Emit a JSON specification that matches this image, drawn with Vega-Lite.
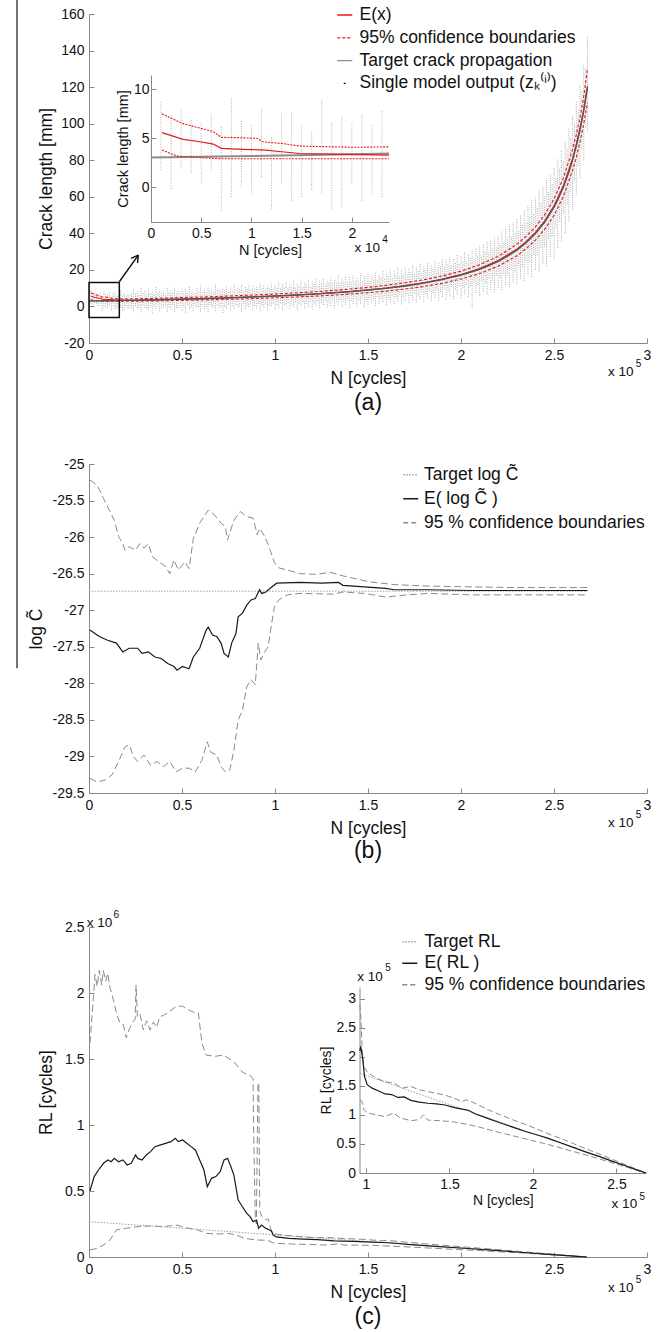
{
"$schema": "https://vega.github.io/schema/vega-lite/v6.json",
"width": 670, "height": 1332, "autosize": {"type": "none"}, "padding": 0,
"config": {
 "view": {"stroke": null},
 "font": "Liberation Sans",
 "axis": {"grid": false, "domainColor": "#888888", "tickColor": "#888888", "tickSize": -5, "labelPadding": 10, "labelFontSize": 14, "labelColor": "#111111", "labelFont": "Liberation Sans", "titleFont": "Liberation Sans", "titleFontSize": 17.5, "titleFontWeight": "normal", "titleColor": "#111111", "labelFlush": false, "labelOverlap": false, "labelBound": false, "domainWidth": 1, "tickWidth": 1},
 "text": {"font": "Liberation Sans", "color": "#111111"},
 "legend": {"labelFont": "Liberation Sans", "labelFontSize": 17.5, "labelColor": "#111111", "labelLimit": 0, "symbolType": "stroke", "symbolSize": 225, "symbolStrokeWidth": 1.3, "padding": 0}
},
"datasets": {
 "one": [{}],
 "streaks": [
  {"N":0,"lo":0.5,"hi":5.0},{"N":0.01,"lo":1.7,"hi":8.7},{"N":0.02,"lo":-0.2,"hi":7.4},{"N":0.03,"lo":1.9,"hi":8.0},{"N":0.04,"lo":1.4,"hi":7.0},{"N":0.05,"lo":0.3,"hi":6.7},{"N":0.06,"lo":1.7,"hi":7.5},{"N":0.07,"lo":-2.4,"hi":6.2},{"N":0.08,"lo":-1.0,"hi":9.1},{"N":0.09,"lo":0.0,"hi":6.8},{"N":0.10,"lo":-0.7,"hi":6.3},{"N":0.11,"lo":1.0,"hi":8.0},{"N":0.12,"lo":-2.2,"hi":5.1},{"N":0.13,"lo":0.3,"hi":7.5},{"N":0.14,"lo":-1.4,"hi":7.7},{"N":0.15,"lo":-1.0,"hi":6.3},{"N":0.16,"lo":-0.3,"hi":5.8},{"N":0.17,"lo":-0.7,"hi":8.9},{"N":0.18,"lo":-2.2,"hi":6.7},{"N":0.19,"lo":-2.1,"hi":7.2},{"N":0.20,"lo":0.3,"hi":6.5},{"N":0.21,"lo":-1.4,"hi":7.4},{"N":0.22,"lo":-0.7,"hi":6.3},{"N":0.23,"lo":-1.0,"hi":7.9},
  {"N":0.24,"lo":-2.5,"hi":9.8},{"N":0.26,"lo":-1.0,"hi":8.2},{"N":0.28,"lo":-3.2,"hi":10.5},{"N":0.30,"lo":-0.8,"hi":8.9},{"N":0.32,"lo":-2.0,"hi":9.6},{"N":0.34,"lo":-3.8,"hi":8.4},{"N":0.36,"lo":-1.2,"hi":10.9},{"N":0.38,"lo":-2.6,"hi":9.0},{"N":0.40,"lo":-0.5,"hi":8.6},{"N":0.42,"lo":-3.0,"hi":10.2},{"N":0.44,"lo":-1.8,"hi":9.3},{"N":0.46,"lo":-2.9,"hi":11.0},{"N":0.48,"lo":-0.9,"hi":8.8},{"N":0.50,"lo":-2.2,"hi":10.4},{"N":0.52,"lo":-3.4,"hi":9.5},{"N":0.54,"lo":-1.1,"hi":11.3},{"N":0.56,"lo":-2.5,"hi":9.2},{"N":0.58,"lo":-0.7,"hi":10.0},{"N":0.60,"lo":-2.9,"hi":11.6},{"N":0.62,"lo":-1.5,"hi":9.4},{"N":0.64,"lo":-3.1,"hi":10.8},{"N":0.66,"lo":-0.6,"hi":9.7},{"N":0.68,"lo":-2.4,"hi":11.9},{"N":0.70,"lo":-1.0,"hi":10.1},{"N":0.72,"lo":-3.6,"hi":9.8},{"N":0.74,"lo":-0.9,"hi":11.4},{"N":0.76,"lo":-2.2,"hi":10.6},{"N":0.78,"lo":-1.4,"hi":12.0},{"N":0.80,"lo":-0.4,"hi":10.3},{"N":0.82,"lo":-2.8,"hi":11.7},{"N":0.84,"lo":-1.2,"hi":10.9},{"N":0.86,"lo":-0.3,"hi":12.4},{"N":0.88,"lo":-2.0,"hi":11.2},{"N":0.90,"lo":-1.1,"hi":10.8},{"N":0.92,"lo":-2.6,"hi":12.8},{"N":0.94,"lo":-0.6,"hi":11.5},{"N":0.96,"lo":-1.8,"hi":12.1},{"N":0.98,"lo":0.2,"hi":13.0},
  {"N":1.00,"lo":-1.5,"hi":11.9},{"N":1.02,"lo":-0.8,"hi":13.4},{"N":1.04,"lo":-2.1,"hi":12.6},{"N":1.06,"lo":0.1,"hi":13.9},{"N":1.08,"lo":-1.3,"hi":12.8},{"N":1.10,"lo":-0.4,"hi":14.2},{"N":1.12,"lo":-2.0,"hi":13.1},{"N":1.14,"lo":0.5,"hi":14.6},{"N":1.16,"lo":-1.1,"hi":13.5},{"N":1.18,"lo":-0.2,"hi":15.0},{"N":1.20,"lo":-1.6,"hi":13.8},{"N":1.22,"lo":0.4,"hi":15.3},{"N":1.24,"lo":-0.9,"hi":14.4},{"N":1.26,"lo":0.8,"hi":15.9},{"N":1.28,"lo":-0.5,"hi":14.7},{"N":1.30,"lo":0.2,"hi":16.2},{"N":1.32,"lo":-1.0,"hi":15.1},{"N":1.34,"lo":1.0,"hi":16.8},{"N":1.36,"lo":-0.3,"hi":15.6},{"N":1.38,"lo":0.6,"hi":17.1},{"N":1.40,"lo":-0.8,"hi":16.0},{"N":1.42,"lo":1.2,"hi":17.6},{"N":1.44,"lo":0.1,"hi":16.5},{"N":1.46,"lo":1.5,"hi":18.2},{"N":1.48,"lo":-0.2,"hi":17.0},{"N":1.50,"lo":1.0,"hi":18.5},{"N":1.52,"lo":2.0,"hi":17.4},{"N":1.54,"lo":0.3,"hi":19.2},{"N":1.56,"lo":1.6,"hi":18.0},{"N":1.58,"lo":2.4,"hi":19.8},{"N":1.60,"lo":0.9,"hi":18.6},{"N":1.62,"lo":2.2,"hi":20.3},{"N":1.64,"lo":1.4,"hi":19.5},{"N":1.66,"lo":2.9,"hi":21.0},{"N":1.68,"lo":1.1,"hi":20.2},{"N":1.70,"lo":3.0,"hi":21.8},{"N":1.72,"lo":1.9,"hi":20.9},{"N":1.74,"lo":3.4,"hi":22.6},{"N":1.76,"lo":2.2,"hi":21.5},{"N":1.78,"lo":3.9,"hi":23.4},{"N":1.80,"lo":2.5,"hi":22.3},{"N":1.82,"lo":4.2,"hi":24.0},{"N":1.84,"lo":2.9,"hi":23.1},{"N":1.86,"lo":4.8,"hi":25.2},{"N":1.88,"lo":3.3,"hi":24.0},{"N":1.90,"lo":5.1,"hi":26.0},{"N":1.92,"lo":3.6,"hi":25.4},{"N":1.94,"lo":5.5,"hi":27.1},{"N":1.96,"lo":4.0,"hi":26.3},{"N":1.98,"lo":6.2,"hi":28.4},
  {"N":2.00,"lo":4.5,"hi":27.6},{"N":2.02,"lo":6.6,"hi":30.0},{"N":2.04,"lo":5.1,"hi":29.1},{"N":2.06,"lo":-0.5,"hi":31.2},{"N":2.08,"lo":7.4,"hi":32.0},{"N":2.10,"lo":6.0,"hi":33.1},{"N":2.12,"lo":8.2,"hi":34.5},{"N":2.14,"lo":6.9,"hi":35.8},{"N":2.16,"lo":9.0,"hi":36.6},{"N":2.18,"lo":7.8,"hi":38.2},{"N":2.20,"lo":10.1,"hi":39.0},{"N":2.22,"lo":9.0,"hi":41.2},{"N":2.24,"lo":11.6,"hi":42.5},{"N":2.26,"lo":10.4,"hi":44.8},{"N":2.28,"lo":13.0,"hi":46.0},{"N":2.30,"lo":12.1,"hi":48.5},{"N":2.32,"lo":15.2,"hi":50.2},{"N":2.34,"lo":14.0,"hi":53.0},{"N":2.36,"lo":17.5,"hi":55.4},{"N":2.38,"lo":16.2,"hi":58.1},{"N":2.40,"lo":20.0,"hi":60.3},{"N":2.42,"lo":19.1,"hi":63.5},{"N":2.44,"lo":23.4,"hi":66.0},{"N":2.46,"lo":22.0,"hi":69.8},{"N":2.48,"lo":27.1,"hi":72.4},{"N":2.50,"lo":26.0,"hi":76.0},{"N":2.52,"lo":32.0,"hi":80.5},{"N":2.54,"lo":35.5,"hi":85.2},{"N":2.56,"lo":40.1,"hi":90.0},{"N":2.58,"lo":46.5,"hi":97.3},{"N":2.60,"lo":53.0,"hi":104.0},{"N":2.62,"lo":61.2,"hi":112.5},{"N":2.64,"lo":70.4,"hi":121.0},{"N":2.66,"lo":80.0,"hi":132.0},{"N":2.68,"lo":96.0,"hi":148.0},
  {"N":0.25,"lo":0.2,"hi":7.0},{"N":0.27,"lo":-0.6,"hi":6.4},{"N":0.29,"lo":0.5,"hi":7.6},{"N":0.31,"lo":-1.0,"hi":6.9},{"N":0.33,"lo":0.1,"hi":7.3},{"N":0.35,"lo":-0.4,"hi":6.6},{"N":0.37,"lo":0.6,"hi":7.9},{"N":0.39,"lo":-0.8,"hi":7.1},{"N":0.41,"lo":0.3,"hi":6.8},{"N":0.43,"lo":-0.5,"hi":7.7},{"N":0.45,"lo":0.4,"hi":7.2},{"N":0.47,"lo":-0.9,"hi":8.0},{"N":0.49,"lo":0.2,"hi":7.4},{"N":0.51,"lo":-0.3,"hi":8.1},{"N":0.53,"lo":0.7,"hi":7.5},{"N":0.55,"lo":-0.6,"hi":8.3},{"N":0.57,"lo":0.4,"hi":7.8},{"N":0.59,"lo":-0.2,"hi":8.5},{"N":0.61,"lo":0.9,"hi":7.9},{"N":0.63,"lo":-0.4,"hi":8.2},{"N":0.65,"lo":0.5,"hi":8.8},{"N":0.67,"lo":-0.1,"hi":8.0},{"N":0.69,"lo":0.8,"hi":8.9},{"N":0.71,"lo":0.1,"hi":8.3},{"N":0.73,"lo":-0.3,"hi":9.1},{"N":0.75,"lo":1.0,"hi":8.6},{"N":0.77,"lo":0.2,"hi":9.3},{"N":0.79,"lo":0.9,"hi":8.7},{"N":0.81,"lo":0.0,"hi":9.4},{"N":0.83,"lo":1.2,"hi":9.0},{"N":0.85,"lo":0.4,"hi":9.6},{"N":0.87,"lo":1.1,"hi":9.2},{"N":0.89,"lo":0.3,"hi":9.9},{"N":0.91,"lo":1.4,"hi":9.4},{"N":0.93,"lo":0.6,"hi":10.1},{"N":0.95,"lo":1.3,"hi":9.7},{"N":0.97,"lo":0.5,"hi":10.4},{"N":0.99,"lo":1.6,"hi":10.0},
  {"N":1.01,"lo":0.8,"hi":10.5},{"N":1.03,"lo":1.7,"hi":10.2},{"N":1.05,"lo":0.9,"hi":10.9},{"N":1.07,"lo":2.0,"hi":10.5},{"N":1.09,"lo":1.1,"hi":11.2},{"N":1.11,"lo":2.2,"hi":10.8},{"N":1.13,"lo":1.3,"hi":11.5},{"N":1.15,"lo":2.4,"hi":11.1},{"N":1.17,"lo":1.5,"hi":11.9},{"N":1.19,"lo":2.6,"hi":11.4},{"N":1.21,"lo":1.7,"hi":12.2},{"N":1.23,"lo":2.9,"hi":11.8},{"N":1.25,"lo":2.0,"hi":12.6},{"N":1.27,"lo":3.1,"hi":12.2},{"N":1.29,"lo":2.2,"hi":13.0},{"N":1.31,"lo":3.3,"hi":12.5},{"N":1.33,"lo":2.4,"hi":13.4},{"N":1.35,"lo":3.6,"hi":12.9},{"N":1.37,"lo":2.8,"hi":13.8},{"N":1.39,"lo":3.9,"hi":13.3},{"N":1.41,"lo":3.0,"hi":14.2},{"N":1.43,"lo":4.2,"hi":13.8},{"N":1.45,"lo":3.3,"hi":14.7},{"N":1.47,"lo":4.5,"hi":14.2},{"N":1.49,"lo":3.6,"hi":15.1},{"N":1.51,"lo":4.8,"hi":14.6},{"N":1.53,"lo":3.9,"hi":15.6},{"N":1.55,"lo":5.2,"hi":15.1},{"N":1.57,"lo":4.3,"hi":16.1},{"N":1.59,"lo":5.6,"hi":15.6},{"N":1.61,"lo":4.6,"hi":16.6},{"N":1.63,"lo":6.0,"hi":16.2},{"N":1.65,"lo":5.0,"hi":17.3},{"N":1.67,"lo":6.4,"hi":16.8},{"N":1.69,"lo":5.3,"hi":18.0},{"N":1.71,"lo":6.9,"hi":17.4},{"N":1.73,"lo":5.8,"hi":18.6},{"N":1.75,"lo":7.3,"hi":18.1},{"N":1.77,"lo":6.2,"hi":19.4},{"N":1.79,"lo":7.8,"hi":18.9},{"N":1.81,"lo":6.8,"hi":20.2},{"N":1.83,"lo":8.4,"hi":19.8},{"N":1.85,"lo":7.4,"hi":21.1},{"N":1.87,"lo":9.0,"hi":20.6},{"N":1.89,"lo":7.9,"hi":22.0},{"N":1.91,"lo":9.8,"hi":21.6},{"N":1.93,"lo":8.7,"hi":23.0},{"N":1.95,"lo":10.5,"hi":22.6},{"N":1.97,"lo":9.4,"hi":24.1},{"N":1.99,"lo":11.2,"hi":23.7},
  {"N":2.01,"lo":10.0,"hi":25.2},{"N":2.03,"lo":12.0,"hi":25.0},{"N":2.05,"lo":10.9,"hi":26.6},{"N":2.07,"lo":13.0,"hi":26.5},{"N":2.09,"lo":11.8,"hi":28.3},{"N":2.11,"lo":14.0,"hi":28.1},{"N":2.13,"lo":12.9,"hi":30.0},{"N":2.15,"lo":15.3,"hi":30.0},{"N":2.17,"lo":14.2,"hi":32.1},{"N":2.19,"lo":16.6,"hi":32.4},{"N":2.21,"lo":15.5,"hi":34.6},{"N":2.23,"lo":18.0,"hi":35.3},{"N":2.25,"lo":17.3,"hi":37.4},{"N":2.27,"lo":20.0,"hi":38.4},{"N":2.29,"lo":19.2,"hi":40.6},{"N":2.31,"lo":22.0,"hi":42.0},{"N":2.33,"lo":21.4,"hi":44.8},{"N":2.35,"lo":24.8,"hi":46.0},{"N":2.37,"lo":24.3,"hi":49.5},{"N":2.39,"lo":28.2,"hi":51.0},{"N":2.41,"lo":28.0,"hi":54.5},{"N":2.43,"lo":32.0,"hi":56.8},{"N":2.45,"lo":32.5,"hi":60.4},{"N":2.47,"lo":36.8,"hi":63.0},{"N":2.49,"lo":38.5,"hi":67.2},{"N":2.51,"lo":43.0,"hi":70.6},{"N":2.53,"lo":46.4,"hi":75.5},{"N":2.55,"lo":51.0,"hi":80.0},{"N":2.57,"lo":55.8,"hi":86.4},{"N":2.59,"lo":62.5,"hi":92.0},{"N":2.61,"lo":69.0,"hi":99.7},{"N":2.63,"lo":76.8,"hi":108.0},{"N":2.65,"lo":86.0,"hi":118.5},{"N":2.67,"lo":98.0,"hi":130.0}
 ],
 "a_target": [
  {"N":0,"v":3.0},{"N":0.1,"v":3.16},{"N":0.2,"v":3.34},{"N":0.237,"v":3.41},{"N":0.3,"v":3.54},{"N":0.4,"v":3.75},{"N":0.5,"v":3.99},{"N":0.6,"v":4.26},{"N":0.7,"v":4.55},{"N":0.8,"v":4.88},{"N":0.9,"v":5.25},{"N":1.0,"v":5.67},{"N":1.1,"v":6.15},{"N":1.2,"v":6.70},{"N":1.3,"v":7.34},{"N":1.4,"v":8.08},{"N":1.5,"v":8.95},{"N":1.6,"v":9.99},{"N":1.7,"v":11.25},{"N":1.8,"v":12.80},{"N":1.9,"v":14.72},{"N":2.0,"v":17.18},{"N":2.05,"v":18.67},{"N":2.1,"v":20.39},{"N":2.15,"v":22.4},{"N":2.2,"v":24.73},{"N":2.25,"v":27.5},{"N":2.3,"v":30.83},{"N":2.35,"v":34.9},{"N":2.4,"v":39.90},{"N":2.45,"v":46.22},{"N":2.5,"v":54.39},{"N":2.52,"v":58.4},{"N":2.55,"v":65.26},{"N":2.58,"v":73.6},{"N":2.6,"v":80.22},{"N":2.62,"v":87.9},{"N":2.64,"v":96.8},{"N":2.66,"v":107.3},{"N":2.68,"v":119.9}
 ],
 "a_E": [
  {"N":0.011,"v":5.55},{"N":0.032,"v":4.86},{"N":0.049,"v":4.62},{"N":0.062,"v":4.38},{"N":0.070,"v":3.94},{"N":0.092,"v":3.84},{"N":0.115,"v":3.77},{"N":0.130,"v":3.60},{"N":0.148,"v":3.42},{"N":0.181,"v":3.36},{"N":0.237,"v":3.25},{"N":0.3,"v":3.45},{"N":0.4,"v":3.72},{"N":0.5,"v":3.98},{"N":0.6,"v":4.28},{"N":0.7,"v":4.58},{"N":0.8,"v":4.93},{"N":0.9,"v":5.30},{"N":1.0,"v":5.72},{"N":1.1,"v":6.21},{"N":1.2,"v":6.77},{"N":1.3,"v":7.42},{"N":1.4,"v":8.17},{"N":1.5,"v":9.06},{"N":1.6,"v":10.12},{"N":1.7,"v":11.40},{"N":1.8,"v":12.98},{"N":1.9,"v":14.95},{"N":2.0,"v":17.45},{"N":2.1,"v":20.72},{"N":2.2,"v":25.13},{"N":2.3,"v":31.33},{"N":2.35,"v":35.5},{"N":2.4,"v":40.52},{"N":2.45,"v":46.9},{"N":2.5,"v":55.1},{"N":2.55,"v":66.0},{"N":2.6,"v":81.0},{"N":2.62,"v":88.7},{"N":2.64,"v":97.5},{"N":2.66,"v":108.0},{"N":2.68,"v":120.6}
 ],
 "a_ci": [
  {"b":"u","N":0.011,"v":7.47},{"b":"u","N":0.031,"v":6.5},{"b":"u","N":0.049,"v":6.0},{"b":"u","N":0.062,"v":5.65},{"b":"u","N":0.070,"v":5.07},{"b":"u","N":0.089,"v":5.03},{"b":"u","N":0.105,"v":4.97},{"b":"u","N":0.112,"v":4.6},{"b":"u","N":0.130,"v":4.45},{"b":"u","N":0.148,"v":4.18},{"b":"u","N":0.181,"v":4.1},{"b":"u","N":0.201,"v":4.05},{"b":"u","N":0.237,"v":4.1},{"b":"u","N":0.3,"v":4.3},{"b":"u","N":0.4,"v":4.55},{"b":"u","N":0.5,"v":4.85},{"b":"u","N":0.6,"v":5.15},{"b":"u","N":0.7,"v":5.5},{"b":"u","N":0.8,"v":5.9},{"b":"u","N":0.9,"v":6.3},{"b":"u","N":1.0,"v":6.8},{"b":"u","N":1.1,"v":7.35},{"b":"u","N":1.2,"v":7.95},{"b":"u","N":1.3,"v":8.65},{"b":"u","N":1.4,"v":9.5},{"b":"u","N":1.5,"v":10.45},{"b":"u","N":1.6,"v":11.6},{"b":"u","N":1.7,"v":12.95},{"b":"u","N":1.8,"v":14.6},{"b":"u","N":1.9,"v":16.7},{"b":"u","N":2.0,"v":19.3},{"b":"u","N":2.1,"v":22.8},{"b":"u","N":2.2,"v":27.4},{"b":"u","N":2.3,"v":34.0},{"b":"u","N":2.35,"v":38.3},{"b":"u","N":2.4,"v":43.5},{"b":"u","N":2.45,"v":50.2},{"b":"u","N":2.5,"v":58.8},{"b":"u","N":2.55,"v":70.2},{"b":"u","N":2.6,"v":86.0},{"b":"u","N":2.62,"v":94.0},{"b":"u","N":2.64,"v":103.5},{"b":"u","N":2.66,"v":115.0},{"b":"u","N":2.68,"v":130.0},
  {"b":"l","N":0.011,"v":3.77},{"b":"l","N":0.026,"v":3.15},{"b":"l","N":0.049,"v":3.01},{"b":"l","N":0.070,"v":2.88},{"b":"l","N":0.237,"v":2.88},{"b":"l","N":0.3,"v":2.95},{"b":"l","N":0.4,"v":3.1},{"b":"l","N":0.5,"v":3.3},{"b":"l","N":0.6,"v":3.5},{"b":"l","N":0.7,"v":3.75},{"b":"l","N":0.8,"v":4.05},{"b":"l","N":0.9,"v":4.35},{"b":"l","N":1.0,"v":4.7},{"b":"l","N":1.1,"v":5.1},{"b":"l","N":1.2,"v":5.55},{"b":"l","N":1.3,"v":6.1},{"b":"l","N":1.4,"v":6.75},{"b":"l","N":1.5,"v":7.5},{"b":"l","N":1.6,"v":8.4},{"b":"l","N":1.7,"v":9.55},{"b":"l","N":1.8,"v":10.95},{"b":"l","N":1.9,"v":12.7},{"b":"l","N":2.0,"v":15.0},{"b":"l","N":2.1,"v":18.0},{"b":"l","N":2.2,"v":22.0},{"b":"l","N":2.3,"v":27.7},{"b":"l","N":2.35,"v":31.6},{"b":"l","N":2.4,"v":36.3},{"b":"l","N":2.45,"v":42.2},{"b":"l","N":2.5,"v":49.8},{"b":"l","N":2.55,"v":60.0},{"b":"l","N":2.6,"v":74.5},{"b":"l","N":2.62,"v":81.5},{"b":"l","N":2.64,"v":90.0},{"b":"l","N":2.66,"v":100.0},{"b":"l","N":2.68,"v":111.5}
 ],
 "b_target": [{"N":0,"v":-26.74},{"N":2.68,"v":-26.74}],
 "b_E": [
  {"N":0.005,"v":-27.27},{"N":0.055,"v":-27.36},{"N":0.1,"v":-27.41},{"N":0.147,"v":-27.45},{"N":0.182,"v":-27.57},{"N":0.216,"v":-27.52},{"N":0.262,"v":-27.52},{"N":0.285,"v":-27.59},{"N":0.319,"v":-27.57},{"N":0.354,"v":-27.64},{"N":0.388,"v":-27.66},{"N":0.423,"v":-27.73},{"N":0.457,"v":-27.77},{"N":0.473,"v":-27.82},{"N":0.503,"v":-27.77},{"N":0.538,"v":-27.80},{"N":0.561,"v":-27.64},{"N":0.595,"v":-27.52},{"N":0.63,"v":-27.27},{"N":0.641,"v":-27.23},{"N":0.664,"v":-27.34},{"N":0.687,"v":-27.36},{"N":0.71,"v":-27.45},{"N":0.726,"v":-27.59},{"N":0.749,"v":-27.64},{"N":0.767,"v":-27.45},{"N":0.79,"v":-27.32},{"N":0.802,"v":-27.09},{"N":0.825,"v":-27.04},{"N":0.848,"v":-26.93},{"N":0.871,"v":-26.86},{"N":0.894,"v":-26.84},{"N":0.917,"v":-26.72},{"N":0.928,"v":-26.77},{"N":0.951,"v":-26.75},{"N":0.974,"v":-26.70},{"N":1.009,"v":-26.63},{"N":1.135,"v":-26.62},{"N":1.25,"v":-26.63},{"N":1.342,"v":-26.62},{"N":1.365,"v":-26.66},{"N":1.48,"v":-26.68},{"N":1.595,"v":-26.70},{"N":1.641,"v":-26.72},{"N":1.824,"v":-26.72},{"N":2.054,"v":-26.73},{"N":2.284,"v":-26.73},{"N":2.68,"v":-26.73}
 ],
 "b_ci": [
  {"b":"u","N":0.005,"v":-25.22},{"b":"u","N":0.044,"v":-25.29},{"b":"u","N":0.078,"v":-25.47},{"b":"u","N":0.113,"v":-25.65},{"b":"u","N":0.136,"v":-25.77},{"b":"u","N":0.159,"v":-25.99},{"b":"u","N":0.182,"v":-26.09},{"b":"u","N":0.193,"v":-26.18},{"b":"u","N":0.216,"v":-26.13},{"b":"u","N":0.25,"v":-26.18},{"b":"u","N":0.273,"v":-26.09},{"b":"u","N":0.296,"v":-26.15},{"b":"u","N":0.319,"v":-26.09},{"b":"u","N":0.342,"v":-26.27},{"b":"u","N":0.377,"v":-26.34},{"b":"u","N":0.411,"v":-26.40},{"b":"u","N":0.434,"v":-26.50},{"b":"u","N":0.457,"v":-26.31},{"b":"u","N":0.48,"v":-26.45},{"b":"u","N":0.515,"v":-26.34},{"b":"u","N":0.538,"v":-26.43},{"b":"u","N":0.561,"v":-26.02},{"b":"u","N":0.595,"v":-25.81},{"b":"u","N":0.641,"v":-25.63},{"b":"u","N":0.676,"v":-25.70},{"b":"u","N":0.71,"v":-25.81},{"b":"u","N":0.733,"v":-25.86},{"b":"u","N":0.745,"v":-26.04},{"b":"u","N":0.779,"v":-25.77},{"b":"u","N":0.813,"v":-25.65},{"b":"u","N":0.848,"v":-25.72},{"b":"u","N":0.882,"v":-25.74},{"b":"u","N":0.894,"v":-25.86},{"b":"u","N":0.905,"v":-25.97},{"b":"u","N":0.917,"v":-25.88},{"b":"u","N":0.94,"v":-25.97},{"b":"u","N":0.963,"v":-26.10},{"b":"u","N":0.997,"v":-26.35},{"b":"u","N":1.02,"v":-26.42},{"b":"u","N":1.066,"v":-26.45},{"b":"u","N":1.135,"v":-26.50},{"b":"u","N":1.227,"v":-26.51},{"b":"u","N":1.296,"v":-26.48},{"b":"u","N":1.365,"v":-26.53},{"b":"u","N":1.503,"v":-26.61},{"b":"u","N":1.641,"v":-26.65},{"b":"u","N":1.824,"v":-26.67},{"b":"u","N":2.054,"v":-26.68},{"b":"u","N":2.284,"v":-26.69},{"b":"u","N":2.68,"v":-26.69},
  {"b":"l","N":0.005,"v":-29.30},{"b":"l","N":0.044,"v":-29.35},{"b":"l","N":0.09,"v":-29.32},{"b":"l","N":0.124,"v":-29.25},{"b":"l","N":0.159,"v":-29.07},{"b":"l","N":0.193,"v":-28.87},{"b":"l","N":0.216,"v":-28.84},{"b":"l","N":0.239,"v":-29.00},{"b":"l","N":0.262,"v":-29.07},{"b":"l","N":0.296,"v":-28.98},{"b":"l","N":0.331,"v":-29.12},{"b":"l","N":0.365,"v":-29.07},{"b":"l","N":0.4,"v":-29.14},{"b":"l","N":0.434,"v":-29.07},{"b":"l","N":0.469,"v":-29.21},{"b":"l","N":0.503,"v":-29.16},{"b":"l","N":0.538,"v":-29.16},{"b":"l","N":0.572,"v":-29.21},{"b":"l","N":0.607,"v":-29.05},{"b":"l","N":0.636,"v":-28.80},{"b":"l","N":0.653,"v":-28.94},{"b":"l","N":0.687,"v":-28.98},{"b":"l","N":0.71,"v":-29.14},{"b":"l","N":0.733,"v":-29.21},{"b":"l","N":0.756,"v":-29.19},{"b":"l","N":0.779,"v":-28.92},{"b":"l","N":0.802,"v":-28.50},{"b":"l","N":0.825,"v":-28.37},{"b":"l","N":0.848,"v":-28.05},{"b":"l","N":0.871,"v":-27.95},{"b":"l","N":0.894,"v":-28.02},{"b":"l","N":0.91,"v":-27.45},{"b":"l","N":0.924,"v":-27.68},{"b":"l","N":0.94,"v":-27.59},{"b":"l","N":0.963,"v":-27.50},{"b":"l","N":0.979,"v":-27.23},{"b":"l","N":0.997,"v":-26.95},{"b":"l","N":1.02,"v":-26.86},{"b":"l","N":1.066,"v":-26.79},{"b":"l","N":1.135,"v":-26.77},{"b":"l","N":1.319,"v":-26.78},{"b":"l","N":1.365,"v":-26.75},{"b":"l","N":1.48,"v":-26.77},{"b":"l","N":1.595,"v":-26.82},{"b":"l","N":1.71,"v":-26.79},{"b":"l","N":1.824,"v":-26.77},{"b":"l","N":2.054,"v":-26.79},{"b":"l","N":2.68,"v":-26.79}
 ],
 "c_target": [{"N":0,"v":0.2677},{"N":2.677,"v":0}],
 "c_E": [
  {"N":0.005,"v":0.50},{"N":0.028,"v":0.609},{"N":0.051,"v":0.659},{"N":0.078,"v":0.710},{"N":0.101,"v":0.735},{"N":0.119,"v":0.722},{"N":0.136,"v":0.747},{"N":0.159,"v":0.722},{"N":0.182,"v":0.735},{"N":0.205,"v":0.697},{"N":0.227,"v":0.710},{"N":0.25,"v":0.773},{"N":0.262,"v":0.747},{"N":0.285,"v":0.735},{"N":0.308,"v":0.773},{"N":0.331,"v":0.798},{"N":0.354,"v":0.836},{"N":0.381,"v":0.848},{"N":0.411,"v":0.861},{"N":0.441,"v":0.874},{"N":0.464,"v":0.899},{"N":0.48,"v":0.874},{"N":0.503,"v":0.886},{"N":0.526,"v":0.861},{"N":0.549,"v":0.836},{"N":0.572,"v":0.811},{"N":0.595,"v":0.735},{"N":0.618,"v":0.659},{"N":0.636,"v":0.533},{"N":0.659,"v":0.596},{"N":0.682,"v":0.609},{"N":0.705,"v":0.646},{"N":0.726,"v":0.735},{"N":0.745,"v":0.747},{"N":0.763,"v":0.684},{"N":0.779,"v":0.621},{"N":0.802,"v":0.432},{"N":0.825,"v":0.381},{"N":0.848,"v":0.331},{"N":0.866,"v":0.306},{"N":0.882,"v":0.268},{"N":0.901,"v":0.280},{"N":0.912,"v":0.217},{"N":0.928,"v":0.242},{"N":0.951,"v":0.217},{"N":0.963,"v":0.21},{"N":0.981,"v":0.195},{"N":0.991,"v":0.166},{"N":1.007,"v":0.152},{"N":1.076,"v":0.141},{"N":1.153,"v":0.135},{"N":1.229,"v":0.131},{"N":1.319,"v":0.122},{"N":1.422,"v":0.119},{"N":1.524,"v":0.113},{"N":1.614,"v":0.108},{"N":1.729,"v":0.094},{"N":1.883,"v":0.0785},{"N":2.037,"v":0.0645},{"N":2.165,"v":0.052},{"N":2.319,"v":0.036},{"N":2.473,"v":0.0205},{"N":2.626,"v":0.005},{"N":2.677,"v":0}
 ],
 "c_ci": [
  {"b":"u","N":0.005,"v":1.62},{"b":"u","N":0.023,"v":1.95},{"b":"u","N":0.032,"v":2.14},{"b":"u","N":0.044,"v":2.05},{"b":"u","N":0.055,"v":2.17},{"b":"u","N":0.068,"v":2.06},{"b":"u","N":0.077,"v":2.17},{"b":"u","N":0.09,"v":2.09},{"b":"u","N":0.10,"v":2.15},{"b":"u","N":0.113,"v":2.04},{"b":"u","N":0.131,"v":1.95},{"b":"u","N":0.149,"v":1.84},{"b":"u","N":0.167,"v":1.77},{"b":"u","N":0.185,"v":1.76},{"b":"u","N":0.20,"v":1.66},{"b":"u","N":0.218,"v":1.73},{"b":"u","N":0.235,"v":1.78},{"b":"u","N":0.248,"v":1.80},{"b":"u","N":0.253,"v":2.06},{"b":"u","N":0.26,"v":1.82},{"b":"u","N":0.274,"v":1.84},{"b":"u","N":0.292,"v":1.72},{"b":"u","N":0.31,"v":1.79},{"b":"u","N":0.328,"v":1.72},{"b":"u","N":0.346,"v":1.78},{"b":"u","N":0.364,"v":1.74},{"b":"u","N":0.38,"v":1.82},{"b":"u","N":0.40,"v":1.83},{"b":"u","N":0.434,"v":1.86},{"b":"u","N":0.469,"v":1.90},{"b":"u","N":0.503,"v":1.90},{"b":"u","N":0.538,"v":1.87},{"b":"u","N":0.572,"v":1.85},{"b":"u","N":0.588,"v":1.85},{"b":"u","N":0.607,"v":1.62},{"b":"u","N":0.63,"v":1.53},{"b":"u","N":0.676,"v":1.52},{"b":"u","N":0.722,"v":1.53},{"b":"u","N":0.779,"v":1.48},{"b":"u","N":0.825,"v":1.40},{"b":"u","N":0.871,"v":1.37},{"b":"u","N":0.882,"v":1.35},{"b":"u","N":0.886,"v":0.90},{"b":"u","N":0.894,"v":0.30},{"b":"u","N":0.900,"v":0.25},{"b":"u","N":0.908,"v":1.30},{"b":"u","N":0.913,"v":1.32},{"b":"u","N":0.918,"v":0.35},{"b":"u","N":0.928,"v":0.31},{"b":"u","N":0.951,"v":0.28},{"b":"u","N":0.963,"v":0.29},{"b":"u","N":0.976,"v":0.218},{"b":"u","N":0.986,"v":0.183},{"b":"u","N":1.012,"v":0.172},{"b":"u","N":1.063,"v":0.163},{"b":"u","N":1.114,"v":0.157},{"b":"u","N":1.217,"v":0.146},{"b":"u","N":1.268,"v":0.149},{"b":"u","N":1.37,"v":0.140},{"b":"u","N":1.473,"v":0.134},{"b":"u","N":1.575,"v":0.123},{"b":"u","N":1.601,"v":0.126},{"b":"u","N":1.729,"v":0.109},{"b":"u","N":1.883,"v":0.091},{"b":"u","N":2.037,"v":0.074},{"b":"u","N":2.19,"v":0.057},{"b":"u","N":2.344,"v":0.0385},{"b":"u","N":2.497,"v":0.021},{"b":"u","N":2.677,"v":0},
  {"b":"l","N":0.005,"v":0.053},{"b":"l","N":0.044,"v":0.066},{"b":"l","N":0.078,"v":0.091},{"b":"l","N":0.113,"v":0.129},{"b":"l","N":0.147,"v":0.205},{"b":"l","N":0.193,"v":0.217},{"b":"l","N":0.262,"v":0.230},{"b":"l","N":0.331,"v":0.235},{"b":"l","N":0.40,"v":0.230},{"b":"l","N":0.469,"v":0.242},{"b":"l","N":0.538,"v":0.217},{"b":"l","N":0.584,"v":0.205},{"b":"l","N":0.63,"v":0.179},{"b":"l","N":0.699,"v":0.174},{"b":"l","N":0.745,"v":0.179},{"b":"l","N":0.79,"v":0.167},{"b":"l","N":0.836,"v":0.141},{"b":"l","N":0.905,"v":0.129},{"b":"l","N":0.963,"v":0.126},{"b":"l","N":0.986,"v":0.109},{"b":"l","N":1.012,"v":0.103},{"b":"l","N":1.114,"v":0.097},{"b":"l","N":1.204,"v":0.095},{"b":"l","N":1.268,"v":0.090},{"b":"l","N":1.345,"v":0.100},{"b":"l","N":1.37,"v":0.091},{"b":"l","N":1.524,"v":0.088},{"b":"l","N":1.678,"v":0.079},{"b":"l","N":1.832,"v":0.0675},{"b":"l","N":1.986,"v":0.0565},{"b":"l","N":2.139,"v":0.0455},{"b":"l","N":2.293,"v":0.033},{"b":"l","N":2.447,"v":0.020},{"b":"l","N":2.600,"v":0.0067},{"b":"l","N":2.677,"v":0}
 ],
 "ci_target": [{"N":0.963,"v":1.714},{"N":2.677,"v":0}],
 "ci_E": [
  {"N":0.963,"v":2.10},{"N":0.968,"v":2.18},{"N":0.981,"v":1.95},{"N":0.991,"v":1.66},{"N":1.007,"v":1.52},{"N":1.037,"v":1.46},{"N":1.076,"v":1.41},{"N":1.114,"v":1.36},{"N":1.153,"v":1.35},{"N":1.191,"v":1.30},{"N":1.229,"v":1.31},{"N":1.268,"v":1.25},{"N":1.319,"v":1.22},{"N":1.370,"v":1.20},{"N":1.422,"v":1.19},{"N":1.473,"v":1.17},{"N":1.524,"v":1.13},{"N":1.575,"v":1.10},{"N":1.614,"v":1.08},{"N":1.652,"v":1.02},{"N":1.729,"v":0.94},{"N":1.806,"v":0.86},{"N":1.883,"v":0.785},{"N":1.960,"v":0.71},{"N":2.037,"v":0.645},{"N":2.088,"v":0.60},{"N":2.165,"v":0.52},{"N":2.242,"v":0.44},{"N":2.319,"v":0.36},{"N":2.396,"v":0.285},{"N":2.473,"v":0.205},{"N":2.549,"v":0.13},{"N":2.626,"v":0.05},{"N":2.677,"v":0}
 ],
 "ci_ci": [
  {"b":"u","N":0.963,"v":2.90},{"b":"u","N":0.970,"v":2.64},{"b":"u","N":0.976,"v":2.18},{"b":"u","N":0.986,"v":1.83},{"b":"u","N":1.012,"v":1.72},{"b":"u","N":1.063,"v":1.63},{"b":"u","N":1.114,"v":1.57},{"b":"u","N":1.165,"v":1.55},{"b":"u","N":1.217,"v":1.46},{"b":"u","N":1.268,"v":1.49},{"b":"u","N":1.319,"v":1.43},{"b":"u","N":1.370,"v":1.40},{"b":"u","N":1.422,"v":1.37},{"b":"u","N":1.473,"v":1.34},{"b":"u","N":1.524,"v":1.29},{"b":"u","N":1.575,"v":1.23},{"b":"u","N":1.601,"v":1.26},{"b":"u","N":1.652,"v":1.20},{"b":"u","N":1.729,"v":1.09},{"b":"u","N":1.806,"v":1.00},{"b":"u","N":1.883,"v":0.91},{"b":"u","N":1.960,"v":0.83},{"b":"u","N":2.037,"v":0.74},{"b":"u","N":2.114,"v":0.65},{"b":"u","N":2.190,"v":0.57},{"b":"u","N":2.267,"v":0.475},{"b":"u","N":2.344,"v":0.385},{"b":"u","N":2.421,"v":0.30},{"b":"u","N":2.497,"v":0.21},{"b":"u","N":2.574,"v":0.12},{"b":"u","N":2.677,"v":0},
  {"b":"l","N":0.963,"v":1.26},{"b":"l","N":0.976,"v":1.23},{"b":"l","N":0.986,"v":1.09},{"b":"l","N":1.012,"v":1.03},{"b":"l","N":1.063,"v":1.00},{"b":"l","N":1.114,"v":0.97},{"b":"l","N":1.165,"v":1.03},{"b":"l","N":1.204,"v":0.95},{"b":"l","N":1.268,"v":0.90},{"b":"l","N":1.319,"v":0.92},{"b":"l","N":1.345,"v":1.00},{"b":"l","N":1.370,"v":0.91},{"b":"l","N":1.447,"v":0.90},{"b":"l","N":1.524,"v":0.88},{"b":"l","N":1.601,"v":0.84},{"b":"l","N":1.678,"v":0.79},{"b":"l","N":1.755,"v":0.73},{"b":"l","N":1.832,"v":0.675},{"b":"l","N":1.909,"v":0.62},{"b":"l","N":1.986,"v":0.565},{"b":"l","N":2.063,"v":0.51},{"b":"l","N":2.139,"v":0.455},{"b":"l","N":2.216,"v":0.39},{"b":"l","N":2.293,"v":0.33},{"b":"l","N":2.370,"v":0.265},{"b":"l","N":2.447,"v":0.20},{"b":"l","N":2.523,"v":0.135},{"b":"l","N":2.600,"v":0.067},{"b":"l","N":2.677,"v":0}
 ]
},
"layer": [
 {"layer": [
  {"data": {"name": "streaks"}, "mark": {"type": "rule", "color": "#9b9b9b", "strokeWidth": 1, "strokeDash": [1, 1.3], "opacity": 0.85},
   "encoding": {
    "x": {"field": "N", "type": "quantitative", "scale": {"domain": [0, 3], "range": [89, 647], "nice": false, "zero": false}, "axis": {"orient": "bottom", "offset": -989, "values": [0,0.5,1,1.5,2,2.5,3], "title": "N [cycles]", "labelExpr": "'' + datum.value", "titlePadding": 7}},
    "y": {"field": "lo", "type": "quantitative", "scale": {"domain": [-20, 160], "range": [343, 14], "nice": false, "zero": false}, "axis": {"orient": "left", "offset": -89, "values": [-20,0,20,40,60,80,100,120,140,160], "title": "Crack length [mm]", "labelExpr": "'' + datum.value", "titlePadding": 5}},
    "y2": {"field": "hi"}}},
  {"data": {"name": "a_ci"}, "mark": {"type": "line", "color": "#e8161b", "strokeWidth": 1.1, "strokeDash": [3, 2]},
   "encoding": {"x": {"field": "N", "type": "quantitative", "scale": {"domain": [0, 3], "range": [89, 647], "nice": false, "zero": false}}, "y": {"field": "v", "type": "quantitative", "scale": {"domain": [-20, 160], "range": [343, 14], "nice": false, "zero": false}}, "detail": {"field": "b"}}},
  {"data": {"name": "a_E"}, "mark": {"type": "line", "color": "#e8161b", "strokeWidth": 1.1},
   "encoding": {"x": {"field": "N", "type": "quantitative", "scale": {"domain": [0, 3], "range": [89, 647], "nice": false, "zero": false}}, "y": {"field": "v", "type": "quantitative", "scale": {"domain": [-20, 160], "range": [343, 14], "nice": false, "zero": false}}}},
  {"data": {"name": "a_target"}, "mark": {"type": "line", "color": "#555555", "strokeWidth": 1.5},
   "encoding": {"x": {"field": "N", "type": "quantitative", "scale": {"domain": [0, 3], "range": [89, 647], "nice": false, "zero": false}}, "y": {"field": "v", "type": "quantitative", "scale": {"domain": [-20, 160], "range": [343, 14], "nice": false, "zero": false}}}},
  {"data": {"name": "one"}, "mark": {"type": "rect", "filled": false, "color": "#111111", "strokeWidth": 1.5},
   "encoding": {"x": {"datum": 0, "type": "quantitative", "scale": {"domain": [0, 3], "range": [89, 647], "nice": false, "zero": false}}, "x2": {"datum": 0.163}, "y": {"datum": -6.1, "type": "quantitative", "scale": {"domain": [-20, 160], "range": [343, 14], "nice": false, "zero": false}}, "y2": {"datum": 13.1}}},
  {"data": {"name": "one"}, "mark": {"type": "rule", "color": "#111111", "strokeWidth": 1.4},
   "encoding": {"x": {"datum": 0.163, "type": "quantitative", "scale": {"domain": [0, 3], "range": [89, 647], "nice": false, "zero": false}}, "x2": {"datum": 0.265}, "y": {"datum": 13.5, "type": "quantitative", "scale": {"domain": [-20, 160], "range": [343, 14], "nice": false, "zero": false}}, "y2": {"datum": 28.1}}},
  {"data": {"name": "one"}, "mark": {"type": "rule", "color": "#111111", "strokeWidth": 1.4},
   "encoding": {"x": {"datum": 0.226, "type": "quantitative", "scale": {"domain": [0, 3], "range": [89, 647], "nice": false, "zero": false}}, "x2": {"datum": 0.265}, "y": {"datum": 26.3, "type": "quantitative", "scale": {"domain": [-20, 160], "range": [343, 14], "nice": false, "zero": false}}, "y2": {"datum": 28.1}}},
  {"data": {"name": "one"}, "mark": {"type": "rule", "color": "#111111", "strokeWidth": 1.4},
   "encoding": {"x": {"datum": 0.261, "type": "quantitative", "scale": {"domain": [0, 3], "range": [89, 647], "nice": false, "zero": false}}, "x2": {"datum": 0.265}, "y": {"datum": 23.7, "type": "quantitative", "scale": {"domain": [-20, 160], "range": [343, 14], "nice": false, "zero": false}}, "y2": {"datum": 28.1}}},
  {"data": {"name": "one"}, "mark": {"type": "rule", "color": "#444444", "strokeWidth": 1.5},
   "encoding": {"x": {"datum": -0.387, "type": "quantitative", "scale": {"domain": [0, 3], "range": [89, 647], "nice": false, "zero": false}}, "y": {"datum": 168, "type": "quantitative", "scale": {"domain": [-20, 160], "range": [343, 14], "nice": false, "zero": false}}, "y2": {"datum": -198}}},
  {"data": {"name": "one"}, "mark": {"type": "text", "fontSize": 13.5, "align": "right", "baseline": "middle"},
   "encoding": {"x": {"datum": 2.927, "type": "quantitative", "scale": {"domain": [0, 3], "range": [89, 647], "nice": false, "zero": false}}, "y": {"datum": -35.9, "type": "quantitative", "scale": {"domain": [-20, 160], "range": [343, 14], "nice": false, "zero": false}}, "text": {"value": "x 10"}}},
  {"data": {"name": "one"}, "mark": {"type": "text", "fontSize": 10, "align": "left", "baseline": "middle"},
   "encoding": {"x": {"datum": 2.94, "type": "quantitative", "scale": {"domain": [0, 3], "range": [89, 647], "nice": false, "zero": false}}, "y": {"datum": -31.3, "type": "quantitative", "scale": {"domain": [-20, 160], "range": [343, 14], "nice": false, "zero": false}}, "text": {"value": "5"}}},
  {"data": {"name": "one"}, "mark": {"type": "text", "fontSize": 23, "align": "center", "baseline": "middle"},
   "encoding": {"x": {"datum": 1.5, "type": "quantitative", "scale": {"domain": [0, 3], "range": [89, 647], "nice": false, "zero": false}}, "y": {"datum": -53.0, "type": "quantitative", "scale": {"domain": [-20, 160], "range": [343, 14], "nice": false, "zero": false}}, "text": {"value": "(a)"}}},
  {"data": {"values": [{"s": "E(x)"}, {"s": "95% confidence boundaries"}, {"s": "Target crack propagation"}, {"s": "Single model output (zₖ⁽ⁱ⁾)"}]},
   "mark": {"type": "line"},
   "encoding": {
    "x": {"datum": -5, "type": "quantitative", "scale": {"domain": [0, 3], "range": [89, 647], "nice": false, "zero": false}},
    "y": {"datum": 0, "type": "quantitative", "scale": {"domain": [-20, 160], "range": [343, 14], "nice": false, "zero": false}},
    "color": {"field": "s", "type": "nominal", "scale": {"domain": ["E(x)", "95% confidence boundaries", "Target crack propagation", "Single model output (zₖ⁽ⁱ⁾)"], "range": ["#e8161b", "#e8161b", "#8c8c8c", "#000000"]}, "legend": {"title": null, "orient": "none", "legendX": 336, "legendY": 6.25, "labelOffset": 6, "rowPadding": 3.8}},
    "strokeDash": {"field": "s", "type": "nominal", "scale": {"domain": ["E(x)", "95% confidence boundaries", "Target crack propagation", "Single model output (zₖ⁽ⁱ⁾)"], "range": [[1, 0], [3, 2], [1, 0], [0.1, 6.4, 1.8, 60]]}, "legend": {"title": null, "orient": "none", "legendX": 336, "legendY": 6.25, "labelOffset": 6, "rowPadding": 3.8}}}}
 ]},
 {"layer": [
  {"data": {"name": "streaks"}, "transform": [{"filter": "datum.N <= 0.237"}], "mark": {"type": "rule", "color": "#a8a8a8", "strokeWidth": 1, "strokeDash": [1, 1.5], "opacity": 0.9},
   "encoding": {
    "x": {"field": "N", "type": "quantitative", "scale": {"domain": [0, 0.237], "range": [151, 389], "nice": false, "zero": false}, "axis": {"orient": "bottom", "offset": -1110, "values": [0,0.05,0.1,0.15,0.2], "title": "N [cycles]", "labelExpr": "'' + round(datum.value*100)/10", "titleFontSize": 14.5, "titlePadding": 3, "labelPadding": 9}},
    "y": {"field": "lo", "type": "quantitative", "scale": {"domain": [-3.57, 11.43], "range": [222, 75], "nice": false, "zero": false}, "axis": {"orient": "left", "offset": -151, "values": [0,5,10], "title": "Crack length [mm]", "labelExpr": "'' + datum.value", "titleFontSize": 14.5, "titlePadding": 3, "labelPadding": 7}},
    "y2": {"field": "hi"}}},
  {"data": {"name": "a_target"}, "transform": [{"filter": "datum.N <= 0.237"}], "mark": {"type": "line", "color": "#8c8c8c", "strokeWidth": 2},
   "encoding": {"x": {"field": "N", "type": "quantitative", "scale": {"domain": [0, 0.237], "range": [151, 389], "nice": false, "zero": false}}, "y": {"field": "v", "type": "quantitative", "scale": {"domain": [-3.57, 11.43], "range": [222, 75], "nice": false, "zero": false}}}},
  {"data": {"name": "a_ci"}, "transform": [{"filter": "datum.N <= 0.237"}], "mark": {"type": "line", "color": "#e8161b", "strokeWidth": 1.1, "strokeDash": [2, 1.2]},
   "encoding": {"x": {"field": "N", "type": "quantitative", "scale": {"domain": [0, 0.237], "range": [151, 389], "nice": false, "zero": false}}, "y": {"field": "v", "type": "quantitative", "scale": {"domain": [-3.57, 11.43], "range": [222, 75], "nice": false, "zero": false}}, "detail": {"field": "b"}}},
  {"data": {"name": "a_E"}, "transform": [{"filter": "datum.N <= 0.237"}], "mark": {"type": "line", "color": "#e8161b", "strokeWidth": 1.2},
   "encoding": {"x": {"field": "N", "type": "quantitative", "scale": {"domain": [0, 0.237], "range": [151, 389], "nice": false, "zero": false}}, "y": {"field": "v", "type": "quantitative", "scale": {"domain": [-3.57, 11.43], "range": [222, 75], "nice": false, "zero": false}}}},
  {"data": {"name": "one"}, "mark": {"type": "text", "fontSize": 13.5, "align": "right", "baseline": "middle"},
   "encoding": {"x": {"datum": 0.228, "type": "quantitative", "scale": {"domain": [0, 0.237], "range": [151, 389], "nice": false, "zero": false}}, "y": {"datum": -6.26, "type": "quantitative", "scale": {"domain": [-3.57, 11.43], "range": [222, 75], "nice": false, "zero": false}}, "text": {"value": "x 10"}}},
  {"data": {"name": "one"}, "mark": {"type": "text", "fontSize": 10, "align": "left", "baseline": "middle"},
   "encoding": {"x": {"datum": 0.2302, "type": "quantitative", "scale": {"domain": [0, 0.237], "range": [151, 389], "nice": false, "zero": false}}, "y": {"datum": -5.4, "type": "quantitative", "scale": {"domain": [-3.57, 11.43], "range": [222, 75], "nice": false, "zero": false}}, "text": {"value": "4"}}}
 ]},
 {"layer": [
  {"data": {"name": "b_target"}, "mark": {"type": "line", "color": "#a0a0a0", "strokeWidth": 1, "strokeDash": [1.5, 1.5]},
   "encoding": {
    "x": {"field": "N", "type": "quantitative", "scale": {"domain": [0, 3], "range": [89, 647], "nice": false, "zero": false}, "axis": {"orient": "bottom", "offset": -539, "values": [0,0.5,1,1.5,2,2.5,3], "title": "N [cycles]", "labelExpr": "'' + datum.value", "titlePadding": 7}},
    "y": {"field": "v", "type": "quantitative", "scale": {"domain": [-29.5, -25], "range": [793, 464], "nice": false, "zero": false}, "axis": {"orient": "left", "offset": -89, "values": [-29.5,-29,-28.5,-28,-27.5,-27,-26.5,-26,-25.5,-25], "title": "log C̃", "labelExpr": "'' + datum.value", "titlePadding": 7}}}},
  {"data": {"name": "b_ci"}, "mark": {"type": "line", "color": "#8a8a8a", "strokeWidth": 1, "strokeDash": [7, 3.5]},
   "encoding": {"x": {"field": "N", "type": "quantitative", "scale": {"domain": [0, 3], "range": [89, 647], "nice": false, "zero": false}}, "y": {"field": "v", "type": "quantitative", "scale": {"domain": [-29.5, -25], "range": [793, 464], "nice": false, "zero": false}}, "detail": {"field": "b"}}},
  {"data": {"name": "b_E"}, "mark": {"type": "line", "color": "#1a1a1a", "strokeWidth": 1.2},
   "encoding": {"x": {"field": "N", "type": "quantitative", "scale": {"domain": [0, 3], "range": [89, 647], "nice": false, "zero": false}}, "y": {"field": "v", "type": "quantitative", "scale": {"domain": [-29.5, -25], "range": [793, 464], "nice": false, "zero": false}}}},
  {"data": {"name": "one"}, "mark": {"type": "text", "fontSize": 13.5, "align": "right", "baseline": "middle"},
   "encoding": {"x": {"datum": 2.927, "type": "quantitative", "scale": {"domain": [0, 3], "range": [89, 647], "nice": false, "zero": false}}, "y": {"datum": -29.91, "type": "quantitative", "scale": {"domain": [-29.5, -25], "range": [793, 464], "nice": false, "zero": false}}, "text": {"value": "x 10"}}},
  {"data": {"name": "one"}, "mark": {"type": "text", "fontSize": 10, "align": "left", "baseline": "middle"},
   "encoding": {"x": {"datum": 2.94, "type": "quantitative", "scale": {"domain": [0, 3], "range": [89, 647], "nice": false, "zero": false}}, "y": {"datum": -29.80, "type": "quantitative", "scale": {"domain": [-29.5, -25], "range": [793, 464], "nice": false, "zero": false}}, "text": {"value": "5"}}},
  {"data": {"name": "one"}, "mark": {"type": "text", "fontSize": 23, "align": "center", "baseline": "middle"},
   "encoding": {"x": {"datum": 1.5, "type": "quantitative", "scale": {"domain": [0, 3], "range": [89, 647], "nice": false, "zero": false}}, "y": {"datum": -30.3, "type": "quantitative", "scale": {"domain": [-29.5, -25], "range": [793, 464], "nice": false, "zero": false}}, "text": {"value": "(b)"}}},
  {"data": {"values": [{"s": "Target log C̃"}, {"s": "E( log C̃ )"}, {"s": "95 % confidence boundaries"}]},
   "mark": {"type": "line"},
   "encoding": {
    "x": {"datum": -5, "type": "quantitative", "scale": {"domain": [0, 3], "range": [89, 647], "nice": false, "zero": false}},
    "y": {"datum": -27, "type": "quantitative", "scale": {"domain": [-29.5, -25], "range": [793, 464], "nice": false, "zero": false}},
    "color": {"field": "s", "type": "nominal", "scale": {"domain": ["Target log C̃", "E( log C̃ )", "95 % confidence boundaries"], "range": ["#a0a0a0", "#1a1a1a", "#8a8a8a"]}, "legend": {"title": null, "orient": "none", "legendX": 402, "legendY": 466, "labelOffset": 4.5, "rowPadding": 5}},
    "strokeDash": {"field": "s", "type": "nominal", "scale": {"domain": ["Target log C̃", "E( log C̃ )", "95 % confidence boundaries"], "range": [[1.5, 1.5], [1, 0], [5, 3]]}, "legend": {"title": null, "orient": "none", "legendX": 402, "legendY": 466, "labelOffset": 4.5, "rowPadding": 5}}}}
 ]},
 {"layer": [
  {"data": {"name": "c_target"}, "mark": {"type": "line", "color": "#a0a0a0", "strokeWidth": 1, "strokeDash": [1.5, 1.5]},
   "encoding": {
    "x": {"field": "N", "type": "quantitative", "scale": {"domain": [0, 3], "range": [89, 647], "nice": false, "zero": false}, "axis": {"orient": "bottom", "offset": -75, "values": [0,0.5,1,1.5,2,2.5,3], "title": "N [cycles]", "labelExpr": "'' + datum.value", "titlePadding": 7}},
    "y": {"field": "v", "type": "quantitative", "scale": {"domain": [0, 2.5], "range": [1257, 927], "nice": false, "zero": false}, "axis": {"orient": "left", "offset": -89, "values": [0,0.5,1,1.5,2,2.5], "title": "RL [cycles]", "labelExpr": "'' + datum.value", "titlePadding": 9}}}},
  {"data": {"name": "c_ci"}, "mark": {"type": "line", "color": "#8a8a8a", "strokeWidth": 1, "strokeDash": [7, 3.5]},
   "encoding": {"x": {"field": "N", "type": "quantitative", "scale": {"domain": [0, 3], "range": [89, 647], "nice": false, "zero": false}}, "y": {"field": "v", "type": "quantitative", "scale": {"domain": [0, 2.5], "range": [1257, 927], "nice": false, "zero": false}}, "detail": {"field": "b"}}},
  {"data": {"name": "c_E"}, "mark": {"type": "line", "color": "#1a1a1a", "strokeWidth": 1.2},
   "encoding": {"x": {"field": "N", "type": "quantitative", "scale": {"domain": [0, 3], "range": [89, 647], "nice": false, "zero": false}}, "y": {"field": "v", "type": "quantitative", "scale": {"domain": [0, 2.5], "range": [1257, 927], "nice": false, "zero": false}}}},
  {"data": {"name": "one"}, "mark": {"type": "text", "fontSize": 13.5, "align": "left", "baseline": "middle"},
   "encoding": {"x": {"datum": -0.012, "type": "quantitative", "scale": {"domain": [0, 3], "range": [89, 647], "nice": false, "zero": false}}, "y": {"datum": 2.528, "type": "quantitative", "scale": {"domain": [0, 2.5], "range": [1257, 927], "nice": false, "zero": false}}, "text": {"value": "x 10"}}},
  {"data": {"name": "one"}, "mark": {"type": "text", "fontSize": 10, "align": "left", "baseline": "middle"},
   "encoding": {"x": {"datum": 0.132, "type": "quantitative", "scale": {"domain": [0, 3], "range": [89, 647], "nice": false, "zero": false}}, "y": {"datum": 2.59, "type": "quantitative", "scale": {"domain": [0, 2.5], "range": [1257, 927], "nice": false, "zero": false}}, "text": {"value": "6"}}},
  {"data": {"name": "one"}, "mark": {"type": "text", "fontSize": 13.5, "align": "right", "baseline": "middle"},
   "encoding": {"x": {"datum": 2.927, "type": "quantitative", "scale": {"domain": [0, 3], "range": [89, 647], "nice": false, "zero": false}}, "y": {"datum": -0.235, "type": "quantitative", "scale": {"domain": [0, 2.5], "range": [1257, 927], "nice": false, "zero": false}}, "text": {"value": "x 10"}}},
  {"data": {"name": "one"}, "mark": {"type": "text", "fontSize": 10, "align": "left", "baseline": "middle"},
   "encoding": {"x": {"datum": 2.94, "type": "quantitative", "scale": {"domain": [0, 3], "range": [89, 647], "nice": false, "zero": false}}, "y": {"datum": -0.174, "type": "quantitative", "scale": {"domain": [0, 2.5], "range": [1257, 927], "nice": false, "zero": false}}, "text": {"value": "5"}}},
  {"data": {"name": "one"}, "mark": {"type": "text", "fontSize": 23, "align": "center", "baseline": "middle"},
   "encoding": {"x": {"datum": 1.5, "type": "quantitative", "scale": {"domain": [0, 3], "range": [89, 647], "nice": false, "zero": false}}, "y": {"datum": -0.452, "type": "quantitative", "scale": {"domain": [0, 2.5], "range": [1257, 927], "nice": false, "zero": false}}, "text": {"value": "(c)"}}},
  {"data": {"values": [{"s": "Target RL"}, {"s": "E( RL )"}, {"s": "95 % confidence boundaries"}]},
   "mark": {"type": "line"},
   "encoding": {
    "x": {"datum": -5, "type": "quantitative", "scale": {"domain": [0, 3], "range": [89, 647], "nice": false, "zero": false}},
    "y": {"datum": 1, "type": "quantitative", "scale": {"domain": [0, 2.5], "range": [1257, 927], "nice": false, "zero": false}},
    "color": {"field": "s", "type": "nominal", "scale": {"domain": ["Target RL", "E( RL )", "95 % confidence boundaries"], "range": ["#a0a0a0", "#1a1a1a", "#8a8a8a"]}, "legend": {"title": null, "orient": "none", "legendX": 401, "legendY": 933, "labelOffset": 6, "rowPadding": 2.5}},
    "strokeDash": {"field": "s", "type": "nominal", "scale": {"domain": ["Target RL", "E( RL )", "95 % confidence boundaries"], "range": [[1.5, 1.5], [1, 0], [5, 3]]}, "legend": {"title": null, "orient": "none", "legendX": 401, "legendY": 933, "labelOffset": 6, "rowPadding": 2.5}}}}
 ]},
 {"layer": [
  {"data": {"name": "ci_target"}, "mark": {"type": "line", "color": "#a0a0a0", "strokeWidth": 1, "strokeDash": [1.5, 1.5]},
   "encoding": {
    "x": {"field": "N", "type": "quantitative", "scale": {"domain": [0.961, 2.677], "range": [359.5, 646], "nice": false, "zero": false}, "axis": {"orient": "bottom", "offset": -159, "values": [1,1.5,2,2.5], "title": "N [cycles]", "labelExpr": "'' + datum.value", "titleFontSize": 14, "titlePadding": 2, "labelPadding": 9}},
    "y": {"field": "v", "type": "quantitative", "scale": {"domain": [0, 3.2], "range": [1173, 987], "nice": false, "zero": false}, "axis": {"orient": "left", "offset": -359.5, "values": [0,0.5,1,1.5,2,2.5,3], "title": "RL [cycles]", "labelExpr": "'' + datum.value", "titleFontSize": 14, "titlePadding": 3, "labelPadding": 9}}}},
  {"data": {"name": "ci_ci"}, "mark": {"type": "line", "color": "#8a8a8a", "strokeWidth": 1, "strokeDash": [6, 3]},
   "encoding": {"x": {"field": "N", "type": "quantitative", "scale": {"domain": [0.961, 2.677], "range": [359.5, 646], "nice": false, "zero": false}}, "y": {"field": "v", "type": "quantitative", "scale": {"domain": [0, 3.2], "range": [1173, 987], "nice": false, "zero": false}}, "detail": {"field": "b"}}},
  {"data": {"name": "ci_E"}, "mark": {"type": "line", "color": "#1a1a1a", "strokeWidth": 1.2},
   "encoding": {"x": {"field": "N", "type": "quantitative", "scale": {"domain": [0.961, 2.677], "range": [359.5, 646], "nice": false, "zero": false}}, "y": {"field": "v", "type": "quantitative", "scale": {"domain": [0, 3.2], "range": [1173, 987], "nice": false, "zero": false}}}},
  {"data": {"name": "one"}, "mark": {"type": "text", "fontSize": 13.5, "align": "left", "baseline": "middle"},
   "encoding": {"x": {"datum": 0.948, "type": "quantitative", "scale": {"domain": [0.961, 2.677], "range": [359.5, 646], "nice": false, "zero": false}}, "y": {"datum": 3.377, "type": "quantitative", "scale": {"domain": [0, 3.2], "range": [1173, 987], "nice": false, "zero": false}}, "text": {"value": "x 10"}}},
  {"data": {"name": "one"}, "mark": {"type": "text", "fontSize": 10, "align": "left", "baseline": "middle"},
   "encoding": {"x": {"datum": 1.115, "type": "quantitative", "scale": {"domain": [0.961, 2.677], "range": [359.5, 646], "nice": false, "zero": false}}, "y": {"datum": 3.52, "type": "quantitative", "scale": {"domain": [0, 3.2], "range": [1173, 987], "nice": false, "zero": false}}, "text": {"value": "5"}}},
  {"data": {"name": "one"}, "mark": {"type": "text", "fontSize": 13.5, "align": "right", "baseline": "middle"},
   "encoding": {"x": {"datum": 2.624, "type": "quantitative", "scale": {"domain": [0.961, 2.677], "range": [359.5, 646], "nice": false, "zero": false}}, "y": {"datum": -0.533, "type": "quantitative", "scale": {"domain": [0, 3.2], "range": [1173, 987], "nice": false, "zero": false}}, "text": {"value": "x 10"}}},
  {"data": {"name": "one"}, "mark": {"type": "text", "fontSize": 10, "align": "left", "baseline": "middle"},
   "encoding": {"x": {"datum": 2.638, "type": "quantitative", "scale": {"domain": [0.961, 2.677], "range": [359.5, 646], "nice": false, "zero": false}}, "y": {"datum": -0.413, "type": "quantitative", "scale": {"domain": [0, 3.2], "range": [1173, 987], "nice": false, "zero": false}}, "text": {"value": "5"}}}
 ]}
],
"resolve": {"scale": {"x": "independent", "y": "independent", "color": "independent", "strokeDash": "independent"}}
}
